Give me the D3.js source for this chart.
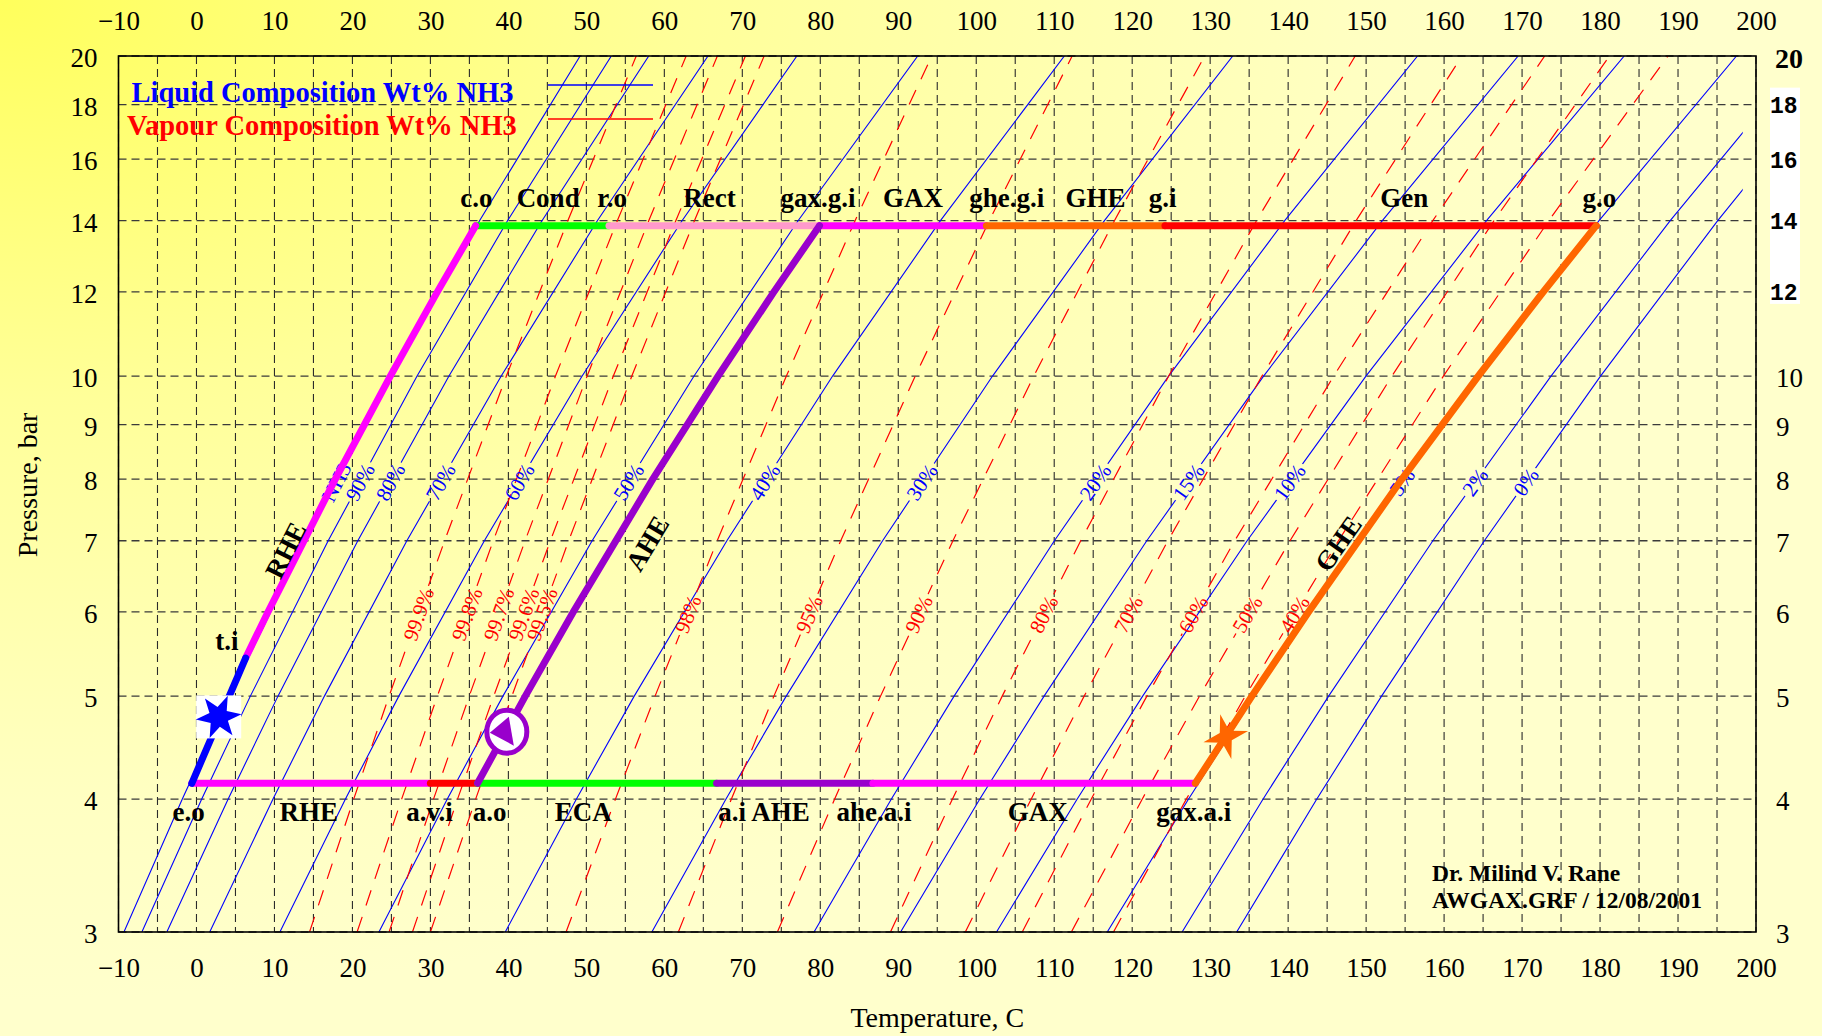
<!DOCTYPE html>
<html><head><meta charset="utf-8">
<script src="https://cdn.jsdelivr.net/npm/d3@7"></script>
<style>html,body{margin:0;padding:0;overflow:hidden;background:#ffffcc}</style>
</head><body><svg id="c" width="1822" height="1036"></svg>
<script>
// ---------------- DATA ----------------
const xTicks = [-10,0,10,20,30,40,50,60,70,80,90,100,110,120,130,140,150,160,170,180,190,200];
const yTicksLeft = [3,4,5,6,7,8,9,10,12,14,16,18,20];
const yTicksRightMain = [3,4,5,6,7,8,9,10];
const yTicksRightSmall = [12,14,16,18];
const yTickRightTop = [20];
const yGrid = [3,4,5,6,7,8,9,10,12,14,16,18,20];
const xGridStep = 5;

// pressure levels (bar) at which the composition lines were read
const isoP = [3,4,5,7,10,14,20];

// liquid composition lines (Wt% NH3): temperature (C) at each isoP
const liquidNames = ["NH3","90%","80%","70%","60%","50%","40%","30%","20%","15%","10%","5%","2%","0%"];
const liquidT = [
  [-9.3,-1.83,4.26,13.97,25.04,36.30,49.2],
  [-7.0,0.66,6.91,16.89,28.29,39.89,53.2],
  [-3.8,4.05,10.45,20.69,32.38,44.31,58.0],
  [1.7,9.80,16.41,26.98,39.08,51.41,65.6],
  [10.7,19.09,25.95,36.92,49.46,62.27,77.0],
  [23.4,32.15,39.30,50.74,63.81,77.15,92.5],
  [39.6,48.71,56.14,68.02,81.58,95.41,111.3],
  [58.4,67.89,75.63,87.99,102.09,116.44,132.9],
  [79.2,89.10,97.16,110.02,124.67,139.56,156.6],
  [90.3,100.44,108.70,121.87,136.85,152.08,169.5],
  [102.6,112.93,121.34,134.74,149.98,165.44,183.1],
  [116.8,127.21,135.68,149.14,164.41,179.87,197.5],
  [126.4,136.77,145.19,158.56,173.71,189.00,206.4],
  [133.4,143.66,151.98,165.16,180.06,195.09,212.1]
];
const liquidTmax = 198.3;   // liquid lines stop at this temperature
const liquidLabelP = 7.95;

// vapour composition lines (Wt% NH3)
const vapourNames = ["99.9%","99.8%","99.7%","99.6%","99.5%","98%","95%","90%","80%","70%","60%","50%","40%"];
const vapourT = [
  [14.5,20.16,24.70,31.82,39.74,47.62,56.4],
  [20.6,26.31,30.89,38.06,46.04,53.97,62.8],
  [24.7,30.40,34.98,42.14,50.10,58.00,66.8],
  [27.7,33.48,38.12,45.38,53.46,61.47,70.4],
  [30.0,35.80,40.45,47.73,55.83,63.86,72.8],
  [47.4,53.73,58.81,66.78,75.65,84.46,94.3],
  [61.8,68.59,74.05,82.62,92.17,101.67,112.3],
  [74.5,81.83,87.73,97.01,107.38,117.72,129.3],
  [89.0,96.94,103.33,113.40,124.68,135.94,148.6],
  [98.6,107.04,113.84,124.58,136.64,148.71,162.3],
  [105.9,114.74,121.88,133.15,145.84,158.55,172.9],
  [112.2,121.28,128.63,140.24,153.30,166.40,181.2],
  [117.6,126.94,134.50,146.45,159.91,173.42,188.7]
];
const vapourLabelP = 5.97;

// GAX cycle
const pHigh = 13.85, pLow = 4.14;
const topStateT = [35.8,52.9,79.9,101.3,124.2,179.5];          // c.o, r.o, gax.g.i, ghe.g.i, g.i, g.o
const topSegColors = ["#00ff00","#ff99cc","#ff00ff","#ff6600","#ff0000"];
const botStateT = [-0.6,30.0,36.05,66.7,86.75,128.1];          // e.o, a.v.i, a.o, a.i, ahe.a.i, gax.a.i
const botSegColors = ["#ff00ff","#ff0000","#00ff00","#9900cc","#ff00ff"];
const evapLine = [[-0.6,4.14],[6.3,5.43]];
const rheLine  = [[6.3,5.43],[9.17,6],[17.80,8],[24.86,10],[30.89,12],[35.8,13.85]];
const aheLine  = [[36.05,4.14],[42.17,5],[48.32,6],[58.52,8],[66.89,10],[74.05,12],[79.9,13.85]];
const gheLine  = [[128.1,4.14],[135.35,5],[142.61,6],[154.59,8],[164.38,10],[172.72,12],[179.5,13.85]];

const topLabels = ["c.o","Cond","r.o","Rect","gax.g.i","GAX","ghe.g.i","GHE","g.i","Gen","g.o"];
const topLabelT = [35.9,45.1,53.3,65.8,79.7,91.9,103.9,115.3,123.9,154.9,179.9];
const topLabelP = 14.42;
const botLabels = ["e.o","RHE","a.v.i","a.o","ECA","a.i","AHE","ahe.a.i","GAX","gax.a.i"];
const botLabelT = [-1.0,14.4,29.9,37.6,49.6,68.7,74.9,86.9,107.9,127.9];
const botLabelP = 3.815;
const slantLabels = ["RHE","AHE","GHE"];
const slantLabelTP = [[11.4,6.86],[57.8,6.96],[146.4,6.96]];
const tiLabelTP = [3.9,5.52];

const markerBlueTP = [2.85,4.78];
const markerPurpleTP = [39.8,4.63];
const markerOrangeTP = [132.0,4.58];

// ---------------- DRAW ----------------
const W = 1822, H = 1036;
const SERIF = "'Liberation Serif','Times New Roman',Times,serif";
const svg = d3.select("#c");
const defs = svg.append("defs");

const grad = defs.append("radialGradient").attr("id","bg")
  .attr("gradientUnits","userSpaceOnUse").attr("cx",0).attr("cy",0).attr("r",1000)
  .attr("gradientTransform","scale(1.7,1)");
[[0,"#ffff5c"],[0.4,"#ffff99"],[0.8,"#ffffc2"],[1,"#ffffcc"]].forEach(s=>
  grad.append("stop").attr("offset",s[0]).attr("stop-color",s[1]));
svg.append("rect").attr("width",W).attr("height",H).attr("fill","url(#bg)");

const x = d3.scaleLinear().domain([-10,200]).range([118.5,1756]);
const y = d3.scaleLog().domain([3,20]).range([932,56]);
const X0 = x(-10), X1 = x(200), Y0 = y(20), Y1 = y(3);

defs.append("clipPath").attr("id","plotClip").append("rect")
  .attr("x",X0).attr("y",Y0).attr("width",X1-X0).attr("height",Y1-Y0);
defs.append("clipPath").attr("id","liqClip").append("rect")
  .attr("x",X0).attr("y",Y0).attr("width",x(liquidTmax)-X0).attr("height",Y1-Y0);

// grid
const xGridVals = d3.range(-10, 200 + 0.001, xGridStep);
const gGrid = svg.append("g").attr("fill","none").attr("stroke","#2b2b2b")
  .attr("stroke-width",1.1).attr("stroke-dasharray","8,5");
gGrid.selectAll("line.v").data(xGridVals).join("line").attr("class","v")
  .attr("x1",d=>x(d)).attr("x2",d=>x(d)).attr("y1",Y0).attr("y2",Y1);
gGrid.selectAll("line.h").data(yGrid).join("line").attr("class","h")
  .attr("x1",X0).attr("x2",X1).attr("y1",d=>y(d)).attr("y2",d=>y(d))
  .attr("stroke","#3a3a3a").attr("stroke-width",1.3);

const lineGen = d3.line().x(d=>x(d[0])).y(d=>y(d[1]));
function linePts(Tarr){ return Tarr.map((t,i)=>[t, isoP[i]]); }
function posAt(Tarr, p){
  for (let i=0;i<isoP.length-1;i++){
    if (p>=isoP[i] && p<=isoP[i+1]){
      const t=(Math.log(p)-Math.log(isoP[i]))/(Math.log(isoP[i+1])-Math.log(isoP[i]));
      const x0=x(Tarr[i]), y0=y(isoP[i]), x1=x(Tarr[i+1]), y1=y(isoP[i+1]);
      return {x:x0+t*(x1-x0), y:y0+t*(y1-y0), a:Math.atan2(y1-y0,x1-x0)*180/Math.PI};
    }
  }
}

// masks for the inline labels
function makeMask(id){
  const m = defs.append("mask").attr("id",id).attr("maskUnits","userSpaceOnUse")
    .attr("x",0).attr("y",0).attr("width",W).attr("height",H);
  m.append("rect").attr("width",W).attr("height",H).attr("fill","#fff");
  return m;
}
const maskL = makeMask("maskL"), maskV = makeMask("maskV");

// liquid lines
const gLiq = svg.append("g").attr("clip-path","url(#liqClip)")
  .append("g").attr("mask","url(#maskL)");
gLiq.selectAll("path").data(liquidT).join("path")
  .attr("d",d=>lineGen(linePts(d))).attr("fill","none")
  .attr("stroke","#0000ff").attr("stroke-width",1.1);

// vapour lines
const gVap = svg.append("g").attr("clip-path","url(#plotClip)")
  .append("g").attr("mask","url(#maskV)");
gVap.selectAll("path").data(vapourT).join("path")
  .attr("d",d=>lineGen(linePts(d))).attr("fill","none")
  .attr("stroke","#ff0000").attr("stroke-width",1.2).attr("stroke-dasharray","16,12");

function inlineLabels(names, Tset, p, color, mask){
  const g = svg.append("g");
  names.forEach((nm,i)=>{
    const q = posAt(Tset[i], p);
    const tr = `translate(${q.x},${q.y}) rotate(${q.a})`;
    const t = g.append("text").attr("transform",tr).attr("text-anchor","middle")
      .attr("dy","0.35em").attr("fill",color).attr("font-family",SERIF)
      .attr("font-size",21).text(nm);
    const w = t.node().getComputedTextLength();
    mask.append("rect").attr("transform",tr).attr("x",-w/2-3).attr("y",-8)
      .attr("width",w+6).attr("height",16).attr("fill","#000");
  });
}
inlineLabels(liquidNames, liquidT, liquidLabelP, "#0000ff", maskL);
inlineLabels(vapourNames, vapourT, vapourLabelP, "#ff0000", maskV);

// frame
svg.append("rect").attr("x",X0).attr("y",Y0).attr("width",X1-X0).attr("height",Y1-Y0)
  .attr("fill","none").attr("stroke","#000").attr("stroke-width",1.6);

// axes
function styleAxis(g, size, weight, family){
  g.select(".domain").remove();
  g.selectAll("line").remove();
  g.selectAll("text").attr("font-family",family||SERIF).attr("font-size",size)
    .attr("font-weight",weight||"normal").attr("fill","#000");
}
const fmt = d3.format("d");
styleAxis(svg.append("g").attr("transform",`translate(0,${Y1})`)
  .call(d3.axisBottom(x).tickValues(xTicks).tickFormat(fmt).tickSize(0).tickPadding(26)), 27);
styleAxis(svg.append("g").attr("transform",`translate(0,${Y0})`)
  .call(d3.axisTop(x).tickValues(xTicks).tickFormat(fmt).tickSize(0).tickPadding(26)), 27);
const gLeft = svg.append("g").attr("transform",`translate(${X0},0)`)
  .call(d3.axisLeft(y).tickValues(yTicksLeft).tickFormat(fmt).tickSize(0).tickPadding(21));
styleAxis(gLeft, 27);
gLeft.selectAll("text").attr("dy","0.4em");

const gRight = svg.append("g").attr("transform",`translate(${X1},0)`)
  .call(d3.axisRight(y).tickValues(yTicksRightMain).tickFormat(fmt).tickSize(0).tickPadding(20));
styleAxis(gRight, 27);
gRight.selectAll("text").attr("dy","0.4em");
const gRightTop = svg.append("g").attr("transform",`translate(${X1},0)`)
  .call(d3.axisRight(y).tickValues(yTickRightTop).tickFormat(fmt).tickSize(0).tickPadding(19));
styleAxis(gRightTop, 28, "bold");
gRightTop.selectAll("text").attr("dy","0.4em");
svg.append("rect").attr("x",X1+14).attr("y",y(18)-17).attr("width",30).attr("height",y(12)-y(18)+29).attr("fill","#fff");
const gRightSmall = svg.append("g").attr("transform",`translate(${X1},0)`)
  .call(d3.axisRight(y).tickValues(yTicksRightSmall).tickFormat(fmt).tickSize(0).tickPadding(14));
styleAxis(gRightSmall, 23, "bold", "'Liberation Mono','DejaVu Sans Mono',monospace");
gRightSmall.selectAll("text").attr("dy","0.35em");

// axis titles
svg.append("text").attr("x",x(95)).attr("y",1027).attr("text-anchor","middle")
  .attr("font-family",SERIF).attr("font-size",28).text("Temperature, C");
svg.append("text").attr("transform",`translate(37,${y(7.9)}) rotate(-90)`).attr("text-anchor","middle")
  .attr("font-family",SERIF).attr("font-size",28).text("Pressure, bar");

// legend
svg.append("text").attr("x",131.5).attr("y",101.5).attr("font-family",SERIF).attr("font-size",28.5)
  .attr("font-weight","bold").attr("fill","#0000ff").text("Liquid Composition Wt% NH3");
svg.append("text").attr("x",127).attr("y",135).attr("font-family",SERIF).attr("font-size",28.5)
  .attr("font-weight","bold").attr("fill","#ff0000").text("Vapour Composition Wt% NH3");
svg.append("line").attr("x1",548).attr("x2",653).attr("y1",85).attr("y2",85)
  .attr("stroke","#0000ff").attr("stroke-width",1.3);
svg.append("line").attr("x1",548).attr("x2",653).attr("y1",119).attr("y2",119)
  .attr("stroke","#ff0000").attr("stroke-width",1.3);

// cycle
const gCyc = svg.append("g").attr("fill","none").attr("stroke-width",7)
  .attr("stroke-linecap","round").attr("stroke-linejoin","round");
botSegColors.forEach((c,i)=>gCyc.append("path").attr("stroke",c)
  .attr("d",lineGen([[botStateT[i],pLow],[botStateT[i+1],pLow]])));
topSegColors.forEach((c,i)=>gCyc.append("path").attr("stroke",c)
  .attr("d",lineGen([[topStateT[i],pHigh],[topStateT[i+1],pHigh]])));
gCyc.append("path").attr("stroke","#ff00ff").attr("d",lineGen(rheLine));
gCyc.append("path").attr("stroke","#0000ff").attr("d",lineGen(evapLine));
gCyc.append("path").attr("stroke","#9900cc").attr("d",lineGen(aheLine));
gCyc.append("path").attr("stroke","#ff6600").attr("d",lineGen(gheLine));

function angleOn(line, p){
  for (let i=0;i<line.length-1;i++){
    if (p>=line[i][1] && p<=line[i+1][1]){
      return Math.atan2(y(line[i+1][1])-y(line[i][1]), x(line[i+1][0])-x(line[i][0]))*180/Math.PI;
    }
  }
  return -60;
}
function starPath(n, R, r){
  const pts=[];
  for(let k=0;k<2*n;k++){
    const ang = Math.PI*k/n;
    const rad = k%2===0?R:r;
    pts.push([rad*Math.cos(ang), rad*Math.sin(ang)]);
  }
  return "M"+pts.map(p=>p.join(",")).join("L")+"Z";
}
// blue marker
{
  const cx=x(markerBlueTP[0]), cy=y(markerBlueTP[1]);
  svg.append("rect").attr("x",cx-22.5).attr("y",cy-21.5).attr("width",45).attr("height",43).attr("fill","#fff");
  svg.append("path").attr("transform",`translate(${cx},${cy}) rotate(${angleOn(evapLine,markerBlueTP[1])})`)
    .attr("d",starPath(6,23,10)).attr("fill","#0000ff");
}
// purple marker
{
  const cx=x(markerPurpleTP[0]), cy=y(markerPurpleTP[1]);
  svg.append("ellipse").attr("cx",cx).attr("cy",cy).attr("rx",20).attr("ry",21.5)
    .attr("fill","#fff").attr("stroke","#9900cc").attr("stroke-width",5);
  svg.append("path").attr("transform",`translate(${cx},${cy})`)
    .attr("d","M2,-15L-17,1L7,14Z").attr("fill","#9900cc");
}
// orange marker
{
  const cx=x(markerOrangeTP[0]), cy=y(markerOrangeTP[1]);
  svg.append("path").attr("transform",`translate(${cx},${cy}) rotate(-14)`)
    .attr("d",starPath(4,23,7)).attr("fill","#ff6600");
}

// state / component labels
const gLab = svg.append("g").attr("font-family",SERIF).attr("font-size",27)
  .attr("font-weight","bold").attr("fill","#000").attr("text-anchor","middle");
topLabels.forEach((t,i)=>gLab.append("text").attr("x",x(topLabelT[i])).attr("y",y(topLabelP)).text(t));
botLabels.forEach((t,i)=>gLab.append("text").attr("x",x(botLabelT[i])).attr("y",y(botLabelP)).text(t));
gLab.append("text").attr("x",x(tiLabelTP[0])).attr("y",y(tiLabelTP[1])).text("t.i");
const slantLines = [rheLine, aheLine, gheLine];
slantLabels.forEach((t,i)=>{
  const a = angleOn(slantLines[i], slantLabelTP[i][1]);
  gLab.append("text").attr("transform",`translate(${x(slantLabelTP[i][0])},${y(slantLabelTP[i][1])}) rotate(${a})`)
    .attr("dy","0.35em").text(t);
});

// signature
const gSig = svg.append("g").attr("font-family",SERIF).attr("font-size",23.5).attr("font-weight","bold");
gSig.append("text").attr("x",1432).attr("y",880.5).text("Dr. Milind V. Rane");
gSig.append("text").attr("x",1432).attr("y",907.5).text("AWGAX.GRF / 12/08/2001");
</script></body></html>
